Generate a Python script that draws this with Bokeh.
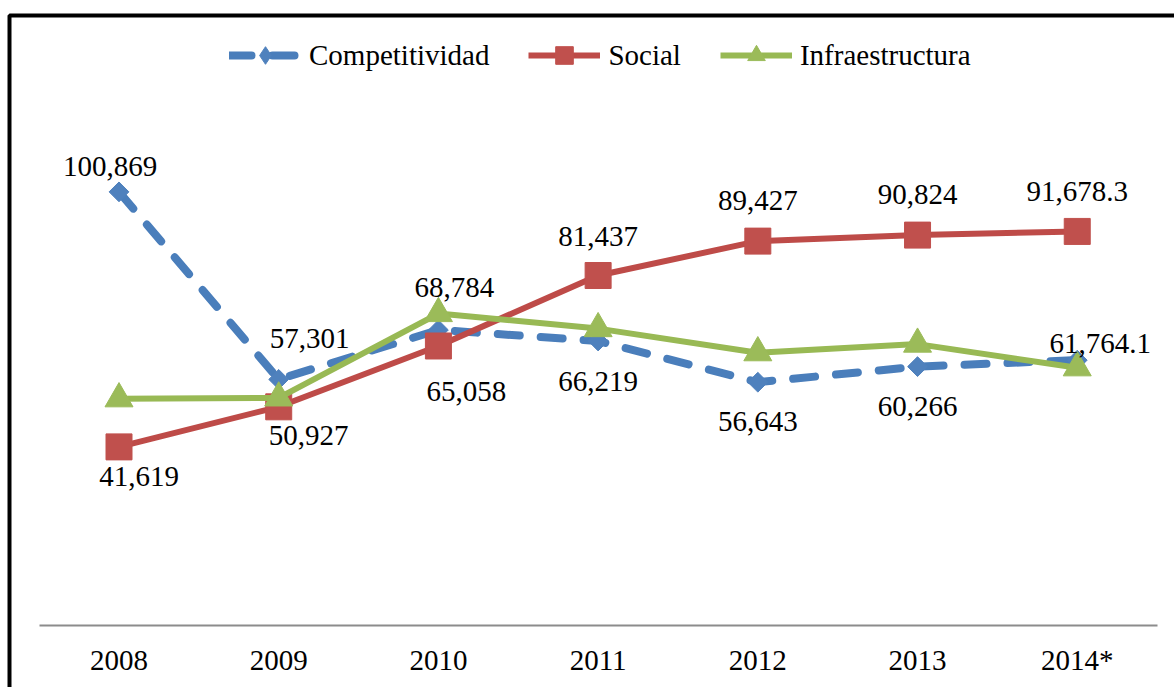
import numpy as np
from bokeh.plotting import figure
from bokeh.models import (ColumnDataSource, Range1d, FixedTicker, Legend, LegendItem,
                          BoxAnnotation)
from bokeh.core.properties import value
from bokeh.embed import file_html
from bokeh.resources import INLINE

# ---------------- data ----------------
years = ["2008", "2009", "2010", "2011", "2012", "2013", "2014*"]
competitividad = [100869, 57301, 68784, 66219, 56643, 60266, 61764.1]
social = [41619, 50927, 65058, 81437, 89427, 90824, 91678.3]
infraestructura = [52800, 53000, 72600, 69100, 63500, 65500, 60000]

# ---------------- label placement (screen px offsets) ----------------
comp_dx = [-9, 31, 16, 0, 0, 0, 23]
comp_dy = [-25, -41, -42, 40, 39, 40, -17]
soc_dx = [20, 30, 28, 0, 0, 0, 0]
soc_dy = [30, 29, 46, -39, -41, -41, -40]

W, H = 1174, 687
FONT = "Liberation Serif"
FS = "29px"
BLUE_L, BLUE_M = "#4A7EBB", "#4F81BD"
RED_L, RED_M = "#BE4B48", "#C0504D"
GREEN_L, GREEN_M = "#98B954", "#9BBB59"


def fmt(v):
    if isinstance(v, float):
        return f"{v:,.1f}"
    return f"{v:,}"


idx = list(range(len(years)))

p = figure(width=W, height=H, output_backend="svg", toolbar_location=None,
           x_range=Range1d(-0.742, 6.609), y_range=Range1d(-14290, 145335),
           y_axis_location=None, min_border=0, min_border_left=0, min_border_right=0,
           min_border_top=0, min_border_bottom=0)
p.outline_line_color = None
p.xgrid.visible = False
p.ygrid.visible = False
p.background_fill_color = "white"
p.border_fill_color = "white"

ax = p.xaxis[0]
ax.fixed_location = 0
ax.bounds = (-0.5, 6.5)
ax.ticker = FixedTicker(ticks=idx)
ax.major_label_overrides = {i: y for i, y in zip(idx, years)}
ax.major_tick_line_color = None
ax.minor_tick_line_color = None
ax.major_tick_out = 0
ax.major_tick_in = 0
ax.axis_line_color = "#8c8c8c"
ax.axis_line_width = 2
ax.major_label_standoff = 18
ax.major_label_text_font = FONT
ax.major_label_text_font_size = FS
ax.major_label_text_color = "black"

# outer chart border (canvas units)
border = BoxAnnotation(left=9, top=15, right=4000, bottom=4000,
                       left_units="canvas", top_units="canvas",
                       right_units="canvas", bottom_units="canvas",
                       fill_alpha=0, line_color="black", line_alpha=1.0, line_width=4)
p.add_layout(border)

l1 = p.line(idx, competitividad, line_color=BLUE_L, line_width=8,
            line_dash="22 21", line_cap="round", line_join="round")
s1 = p.scatter(idx, competitividad, marker="square", angle=np.pi / 4, size=14,
               fill_color=BLUE_M, line_color=BLUE_M)
# marker used only for the legend swatch (zero size on the plot)
s1_leg = p.scatter(idx, competitividad, marker="diamond", size=0,
                   fill_color=BLUE_M, line_color=BLUE_M)
l2 = p.line(idx, social, line_color=RED_L, line_width=6, line_join="round")
s2 = p.scatter(idx, social, marker="square", size=26, fill_color=RED_M, line_color=RED_M)
l3 = p.line(idx, infraestructura, line_color=GREEN_L, line_width=6, line_join="round")
s3 = p.scatter(idx, infraestructura, marker="triangle", size=28,
               fill_color=GREEN_M, line_color=GREEN_M)

lab = ColumnDataSource(dict(
    x=idx + idx,
    y=competitividad + social,
    t=[fmt(v) for v in competitividad] + [fmt(v) for v in social],
    dx=comp_dx + soc_dx,
    dy=comp_dy + soc_dy,
))
p.text(x="x", y="y", text="t", x_offset="dx", y_offset="dy", source=lab,
       text_align="center", text_baseline="middle", text_color="black",
       text_font=value(FONT), text_font_size=value(FS))

legend = Legend(items=[
    LegendItem(label="Competitividad", renderers=[l1, s1_leg]),
    LegendItem(label="Social", renderers=[l2, s2]),
    LegendItem(label="Infraestructura", renderers=[l3, s3]),
], orientation="horizontal", location=(229, 610), glyph_width=72, glyph_height=44,
    label_standoff=8, spacing=39, padding=8, margin=0,
    label_text_font=FONT, label_text_font_size=FS, label_text_color="black",
    border_line_color=None, background_fill_alpha=0)
p.add_layout(legend)

open("out.html", "w").write(file_html(p, INLINE))
